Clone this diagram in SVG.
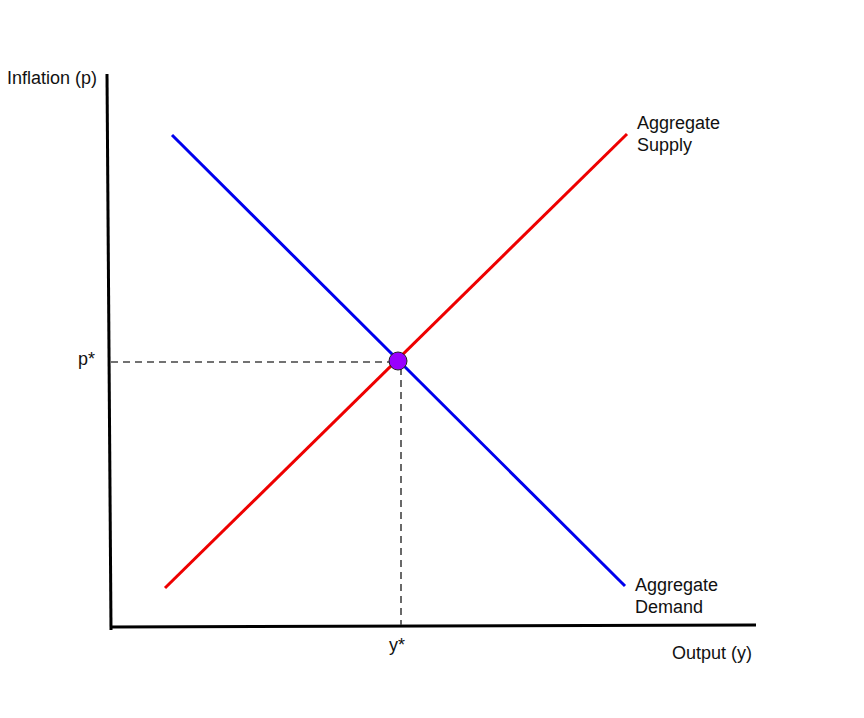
<svg xmlns="http://www.w3.org/2000/svg" width="864" height="718" viewBox="0 0 864 718">
<style>
text{font-family:"Liberation Sans",Arial,sans-serif;font-size:18px;fill:#111}
.axis{stroke:#000;stroke-width:3;fill:none}
.dash{stroke:#444;stroke-width:1.6;stroke-dasharray:7,5;fill:none}
</style>
<rect width="864" height="718" fill="#fff"/>
<g id="axes">
<line class="axis" x1="107" y1="74" x2="111" y2="630"/>
<line class="axis" x1="110" y1="627" x2="756" y2="625"/>
<text x="7" y="84">Inflation (p)</text>
<text x="672" y="659">Output (y)</text>
</g>
<g id="connectors">
<line class="dash" x1="111" y1="362" x2="392" y2="362"/>
<line class="dash" x1="401" y1="368" x2="401" y2="625"/>
<line x1="172" y1="135" x2="625" y2="586" stroke="#0000ee" stroke-width="3"/>
<line x1="165" y1="588" x2="627" y2="134" stroke="#ee0000" stroke-width="3"/>
</g>
<g id="equilibrium">
<circle cx="398" cy="361" r="9" fill="#9900ff" stroke="#222" stroke-width="1"/>
</g>
<g id="labels">
<text x="78" y="365">p*</text>
<text x="389" y="651">y*</text>
<text x="637" y="129">Aggregate</text>
<text x="637" y="151">Supply</text>
<text x="635" y="591">Aggregate</text>
<text x="635" y="613">Demand</text>
</g>
</svg>
